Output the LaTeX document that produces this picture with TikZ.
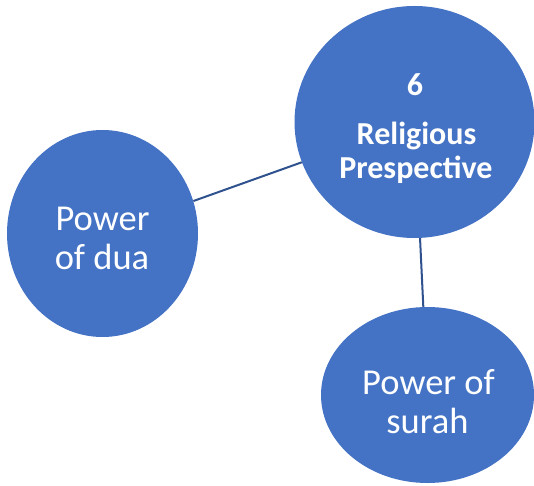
\documentclass[tikz,border=0pt]{standalone}
\usepackage{fontspec}
\setmainfont{Carlito}
\usetikzlibrary{shapes.geometric}
\definecolor{bubble}{HTML}{4472C4}
\definecolor{link}{HTML}{2F528F}
\tikzset{
  bubble/.style={ellipse, fill=bubble, draw=none, inner sep=0pt},
  link/.style={draw=link, line width=2pt},
  plain/.style={text=white, anchor=base, inner sep=0pt, font=\fontsize{36.5}{42}\selectfont},
  heading/.style={text=white, anchor=base, inner sep=0pt, font=\bfseries\fontsize{32}{38}\selectfont},
}
\begin{document}
\begin{tikzpicture}[x=1pt,y=1pt]
  \useasboundingbox (0,0) rectangle (534,485);
  % the three bubbles
  \node[bubble, minimum width=240pt, minimum height=232pt] (rel) at (414.5,363) {};
  \node[bubble, minimum width=191pt, minimum height=207pt] (dua) at (102.5,251.5) {};
  \node[bubble, minimum width=213pt, minimum height=176pt] (surah) at (427.5,90) {};
  % connectors between bubbles
  \draw[link] (rel) -- (dua);
  \draw[link] (rel) -- (surah);
  % labels
  \node[heading] (relnum) at (415,389) {6};
  \node[heading] (relA) at (416.5,340) {Religious};
  \node[heading] (relB) at (416,306) {Prespective};
  \node[plain] (duaA) at (102.5,255) {Power};
  \node[plain] (duaB) at (102,216) {of dua};
  \node[plain] (surahA) at (428.5,91) {Power of};
  \node[plain] (surahB) at (427.5,52) {surah};
\end{tikzpicture}
\end{document}
